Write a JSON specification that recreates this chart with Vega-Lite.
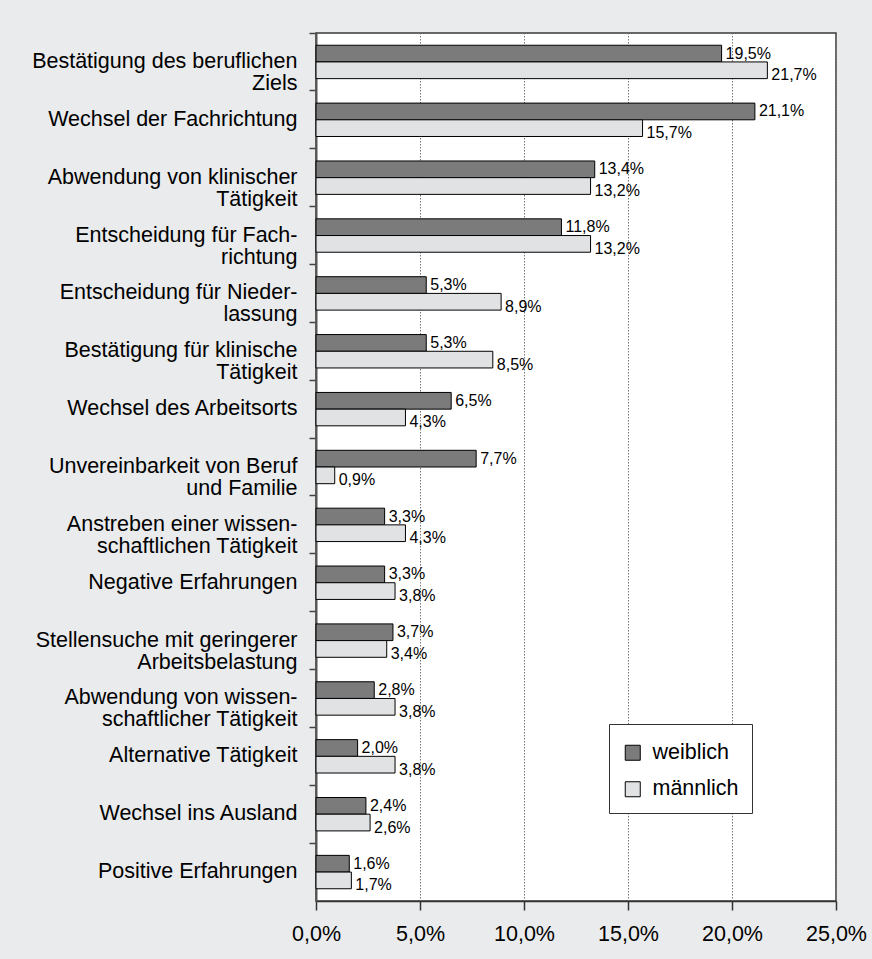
{
  "$schema": "https://vega.github.io/schema/vega-lite/v6.json",
  "width": 520,
  "height": 868,
  "autosize": {"type": "none"},
  "padding": {"left": 316, "top": 33, "right": 36, "bottom": 58},
  "background": "#eaebec",
  "config": {
    "locale": {"number": {"decimal": ",", "thousands": ".", "grouping": [3], "currency": ["", " €"]}},
    "font": "Liberation Sans",
    "view": {"fill": "white", "stroke": "#3a3a3a", "strokeWidth": 1.5}
  },
  "data": {
    "values": [
      {"cat": "Bestätigung des beruflichen|Ziels", "sex": "weiblich", "value": 0.195},
      {"cat": "Bestätigung des beruflichen|Ziels", "sex": "männlich", "value": 0.217},
      {"cat": "Wechsel der Fachrichtung", "sex": "weiblich", "value": 0.211},
      {"cat": "Wechsel der Fachrichtung", "sex": "männlich", "value": 0.157},
      {"cat": "Abwendung von klinischer|Tätigkeit", "sex": "weiblich", "value": 0.134},
      {"cat": "Abwendung von klinischer|Tätigkeit", "sex": "männlich", "value": 0.132},
      {"cat": "Entscheidung für Fach-|richtung", "sex": "weiblich", "value": 0.118},
      {"cat": "Entscheidung für Fach-|richtung", "sex": "männlich", "value": 0.132},
      {"cat": "Entscheidung für Nieder-|lassung", "sex": "weiblich", "value": 0.053},
      {"cat": "Entscheidung für Nieder-|lassung", "sex": "männlich", "value": 0.089},
      {"cat": "Bestätigung für klinische|Tätigkeit", "sex": "weiblich", "value": 0.053},
      {"cat": "Bestätigung für klinische|Tätigkeit", "sex": "männlich", "value": 0.085},
      {"cat": "Wechsel des Arbeitsorts", "sex": "weiblich", "value": 0.065},
      {"cat": "Wechsel des Arbeitsorts", "sex": "männlich", "value": 0.043},
      {"cat": "Unvereinbarkeit von Beruf|und Familie", "sex": "weiblich", "value": 0.077},
      {"cat": "Unvereinbarkeit von Beruf|und Familie", "sex": "männlich", "value": 0.009},
      {"cat": "Anstreben einer wissen-|schaftlichen Tätigkeit", "sex": "weiblich", "value": 0.033},
      {"cat": "Anstreben einer wissen-|schaftlichen Tätigkeit", "sex": "männlich", "value": 0.043},
      {"cat": "Negative Erfahrungen", "sex": "weiblich", "value": 0.033},
      {"cat": "Negative Erfahrungen", "sex": "männlich", "value": 0.038},
      {"cat": "Stellensuche mit geringerer|Arbeitsbelastung", "sex": "weiblich", "value": 0.037},
      {"cat": "Stellensuche mit geringerer|Arbeitsbelastung", "sex": "männlich", "value": 0.034},
      {"cat": "Abwendung von wissen-|schaftlicher Tätigkeit", "sex": "weiblich", "value": 0.028},
      {"cat": "Abwendung von wissen-|schaftlicher Tätigkeit", "sex": "männlich", "value": 0.038},
      {"cat": "Alternative Tätigkeit", "sex": "weiblich", "value": 0.020},
      {"cat": "Alternative Tätigkeit", "sex": "männlich", "value": 0.038},
      {"cat": "Wechsel ins Ausland", "sex": "weiblich", "value": 0.024},
      {"cat": "Wechsel ins Ausland", "sex": "männlich", "value": 0.026},
      {"cat": "Positive Erfahrungen", "sex": "weiblich", "value": 0.016},
      {"cat": "Positive Erfahrungen", "sex": "männlich", "value": 0.017}
    ]
  },
  "encoding": {
    "y": {
      "field": "cat", "type": "nominal", "sort": null, "title": null,
      "scale": {"paddingInner": 0.423, "paddingOuter": 0.2115},
      "axis": {
        "labelExpr": "split(datum.label, '|')",
        "labelFontSize": 21.5, "labelLineHeight": 22, "labelColor": "black",
        "labelLimit": 400, "labelPadding": 12,
        "bandPosition": -0.366, "tickExtra": false,
        "tickSize": 7, "tickColor": "#444", "tickWidth": 1.5,
        "domainColor": "#555", "domainWidth": 2
      }
    },
    "yOffset": {"field": "sex", "type": "nominal", "sort": ["weiblich", "männlich"], "scale": {"paddingInner": 0, "paddingOuter": 0}},
    "x": {
      "field": "value", "type": "quantitative", "title": null,
      "scale": {"domain": [0, 0.25], "nice": false},
      "axis": {
        "format": ".1%", "values": [0, 0.05, 0.1, 0.15, 0.2, 0.25],
        "labelFontSize": 21.5, "labelColor": "black", "labelPadding": 13, "labelFlush": false,
        "tickSize": 9, "tickColor": "#333", "tickWidth": 1.5,
        "domainColor": "#333", "domainWidth": 1.5,
        "grid": true, "gridDash": [1.5, 1.5], "gridColor": "#777", "gridWidth": 1
      }
    }
  },
  "layer": [
    {
      "mark": {"type": "bar", "stroke": "black", "strokeWidth": 1},
      "encoding": {
        "color": {
          "field": "sex", "type": "nominal",
          "scale": {"domain": ["weiblich", "männlich"], "range": ["#7b7b7b", "#e1e2e3"]},
          "legend": {
            "orient": "none", "legendX": 293, "legendY": 691, "title": " ", "titleFontSize": 5, "titlePadding": 0,
            "fillColor": "white", "strokeColor": "#333", "padding": 13,
            "symbolType": "square", "symbolSize": 225, "symbolStrokeColor": "black", "symbolStrokeWidth": 1,
            "labelFontSize": 21.5, "labelColor": "black", "labelOffset": 9, "rowPadding": 13.5
          }
        }
      }
    },
    {
      "transform": [{"filter": {"field": "sex", "equal": "weiblich"}}],
      "mark": {"type": "text", "align": "left", "baseline": "middle", "dx": 4, "fontSize": 16, "color": "black"},
      "encoding": {"text": {"field": "value", "type": "quantitative", "format": ".1%"}}
    },
    {
      "transform": [{"filter": {"field": "sex", "equal": "männlich"}}],
      "mark": {"type": "text", "align": "left", "baseline": "middle", "dx": 4, "dy": 5, "fontSize": 16, "color": "black"},
      "encoding": {"text": {"field": "value", "type": "quantitative", "format": ".1%"}}
    }
  ]
}
